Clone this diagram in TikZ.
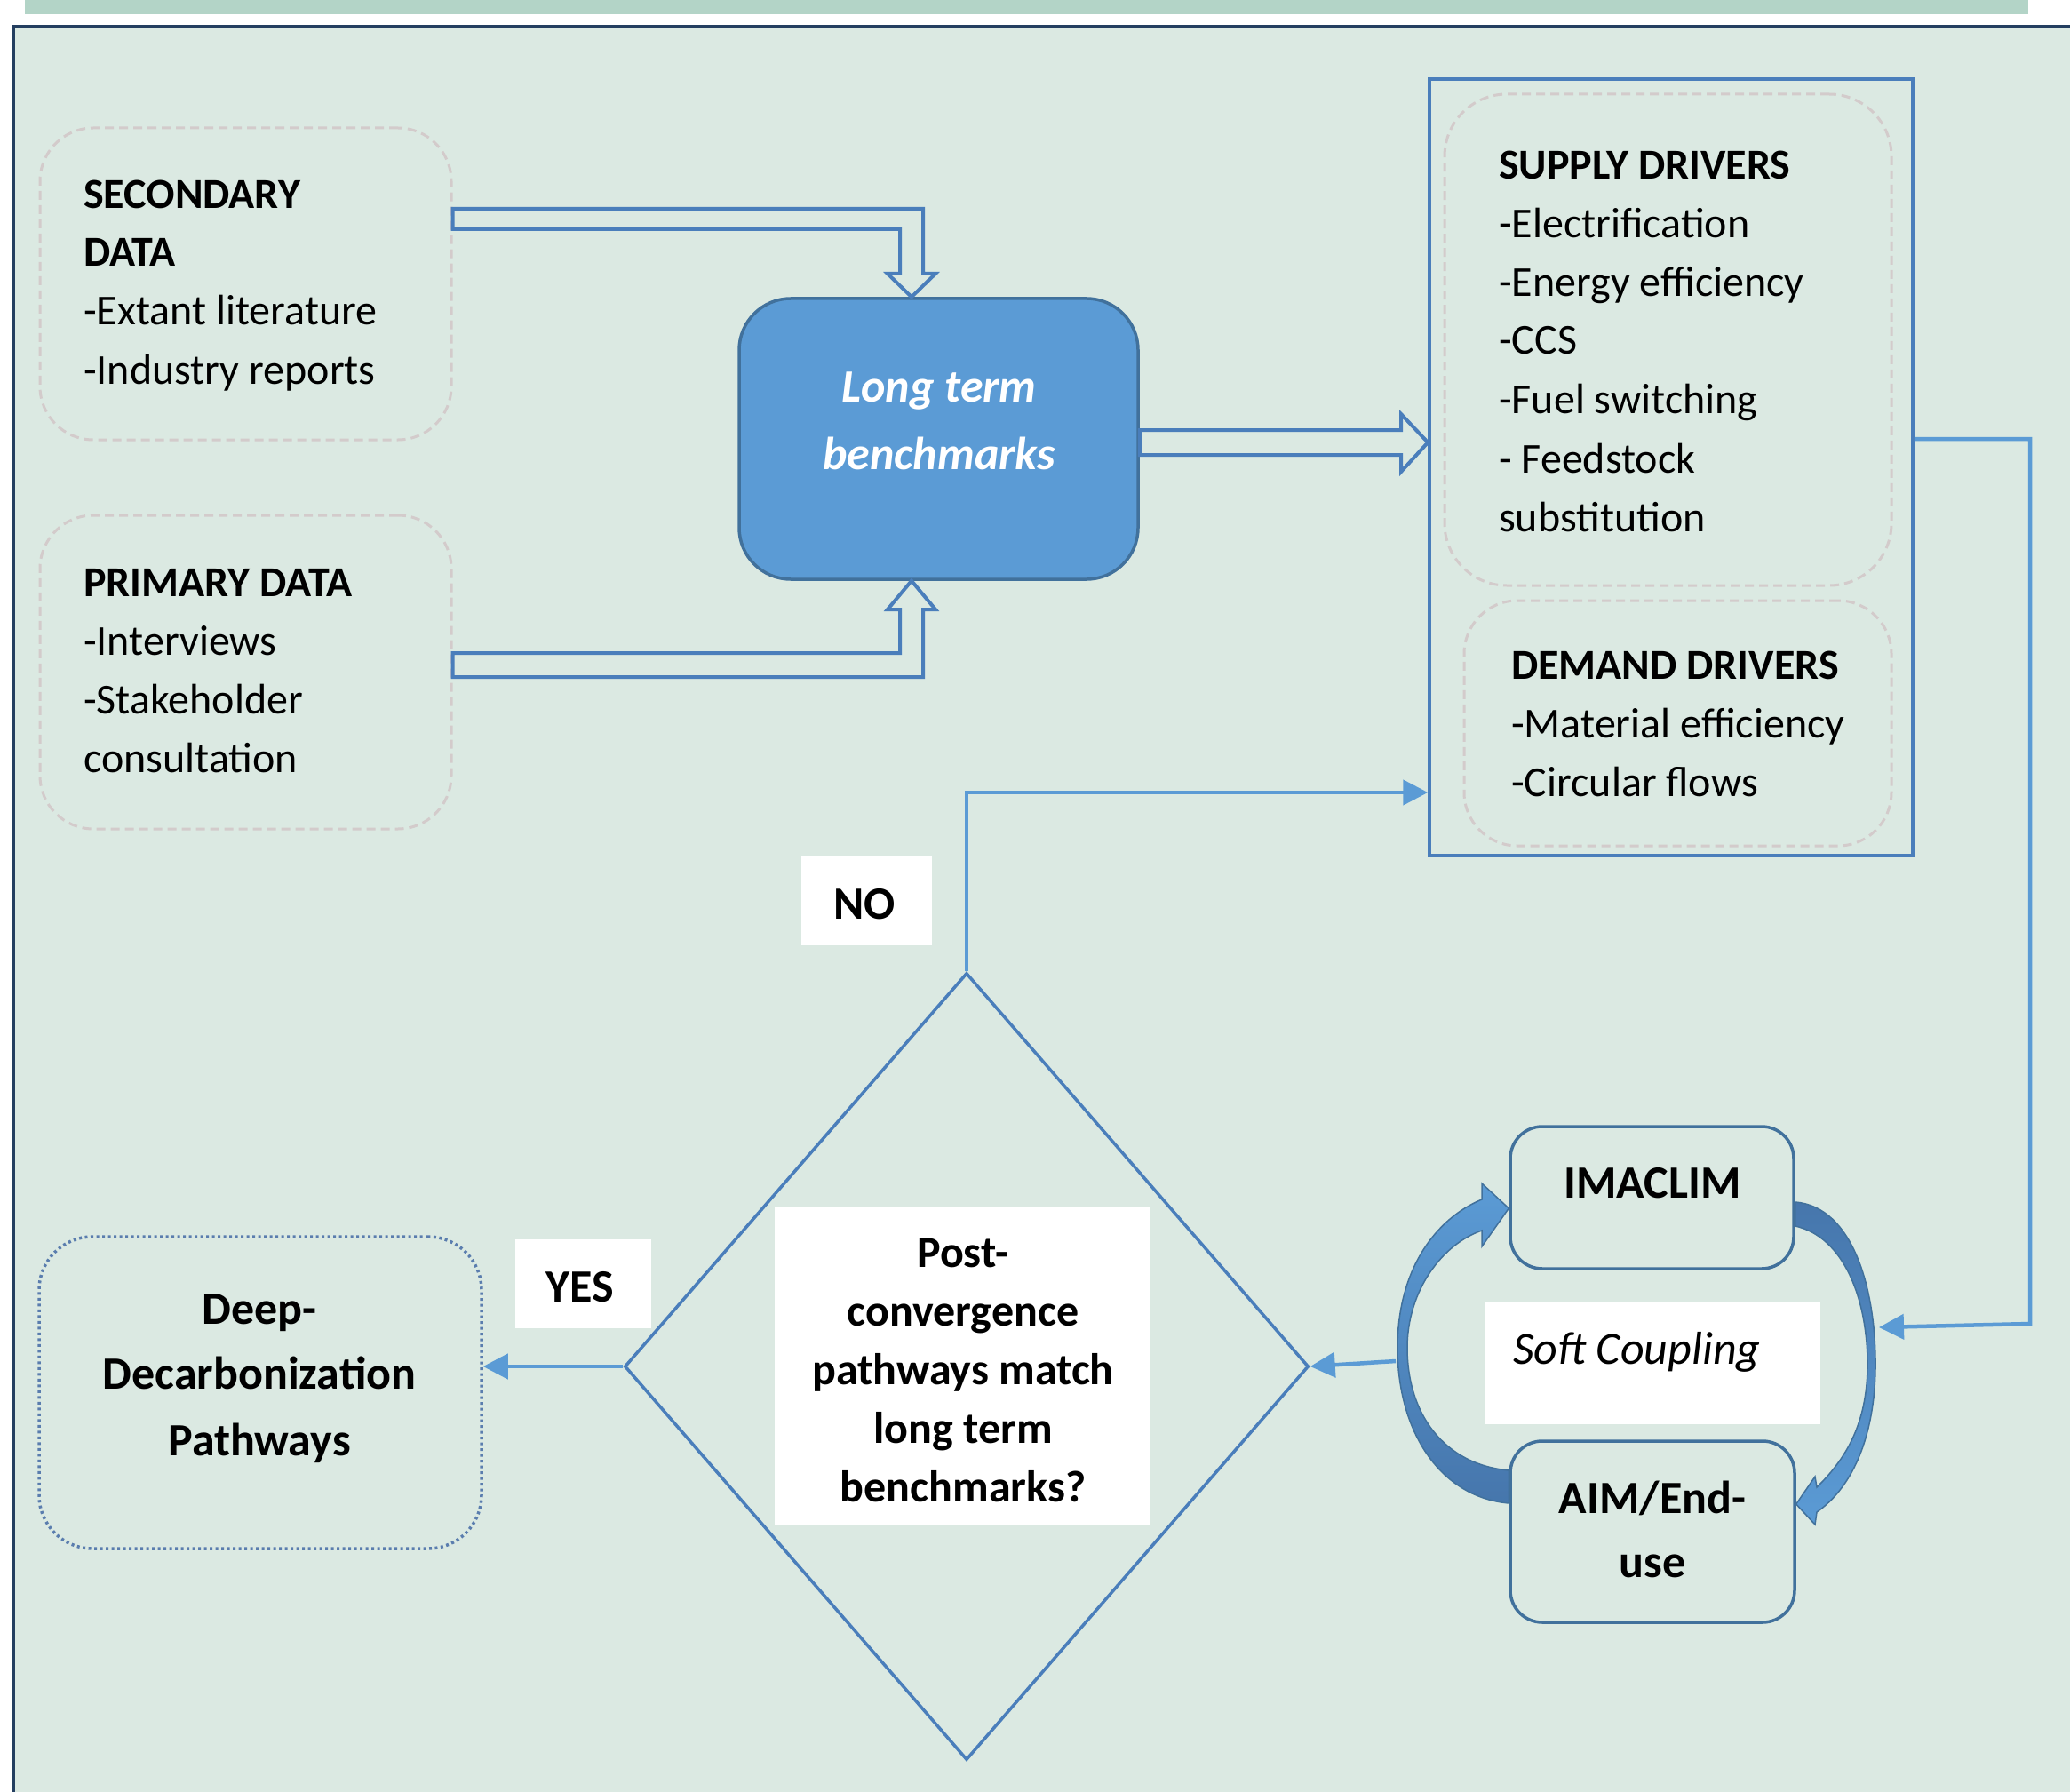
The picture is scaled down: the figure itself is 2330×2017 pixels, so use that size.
\documentclass[tikz,border=0pt]{standalone}
\usepackage{fontspec}
\setmainfont{Carlito}
\usetikzlibrary{arrows.meta,shapes.geometric,calc}
\definecolor{bg}{HTML}{DBE9E2}
\definecolor{band}{HTML}{B3D4C7}
\definecolor{navy}{HTML}{243F60}
\definecolor{bluefill}{HTML}{5B9BD5}
\definecolor{bluedark}{HTML}{41719C}
\definecolor{bluemid}{HTML}{4A7EBB}
\definecolor{connblue}{HTML}{5B9BD5}
\definecolor{dashgray}{HTML}{D3CBCB}
\definecolor{dotblue}{HTML}{5A7DAE}
\definecolor{arrlight}{HTML}{5B9BD5}
\definecolor{arrdark}{HTML}{4676AC}
\begin{document}
\begin{tikzpicture}[x=1pt,y=-1pt,
  dashbox/.style={draw=dashgray, line width=3pt, dash pattern=on 10pt off 6pt, rounded corners=60pt, inner sep=0pt},
  dotbox/.style={draw=dotblue, line width=3.5pt, dash pattern=on 3pt off 3.5pt, rounded corners=60pt, inner sep=0pt},
  modelbox/.style={draw=bluedark, line width=3.5pt, rounded corners=36pt, inner sep=0pt},
  labelbox/.style={fill=white, inner sep=0pt},
  hollow/.style={draw=bluemid, line width=4pt, line join=miter},
  conn/.style={draw=connblue, line width=4.5pt, -{Triangle[length=28pt,width=28pt]}},
  tx/.style={inner sep=0pt, anchor=base west, text=black},
  cx/.style={inner sep=0pt, anchor=base, text=black},
  fL/.style={font=\fontsize{48pt}{58pt}\selectfont},
  fLb/.style={font=\fontsize{48pt}{58pt}\selectfont\bfseries},
  fR/.style={font=\fontsize{48pt}{58pt}\selectfont},
  fRb/.style={font=\fontsize{48pt}{58pt}\selectfont\bfseries},
  fB/.style={font=\fontsize{52pt}{62pt}\selectfont\bfseries},
  fQ/.style={font=\fontsize{50pt}{60pt}\selectfont\bfseries},
  fI/.style={font=\fontsize{52pt}{62pt}\selectfont\itshape},
  fBI/.style={font=\fontsize{52pt}{62pt}\selectfont\bfseries\itshape}
]
\useasboundingbox (0,0) rectangle (2330,2017);
\clip (0,0) rectangle (2330,2017);
\fill[white] (0,0) rectangle (2330,2017);
\fill[band] (28,0) rectangle (2283,16);
\fill[bg] (15,30) rectangle (2345,2035);
\draw[navy, line width=3pt] (15,2035) -- (15,30) -- (2345,30);

% boxes
\node[dashbox, minimum width=463pt, minimum height=351pt] (sec) at (276.5,319.5) {};
\node[dashbox, minimum width=463pt, minimum height=353pt] (pri) at (276.5,756.5) {};
\node[draw=bluedark, fill=bluefill, line width=3.5pt, rounded corners=58pt, minimum width=449pt, minimum height=316pt, inner sep=0pt] (lt) at (1056.5,494) {};
\node[draw=bluemid, line width=3.5pt, minimum width=544pt, minimum height=874pt, inner sep=0pt] (cont) at (1881,526) {};
\node[dashbox, rounded corners=70pt, minimum width=503pt, minimum height=553pt] (sup) at (1877.5,382.5) {};
\node[dashbox, rounded corners=60pt, minimum width=481pt, minimum height=276pt] (dem) at (1888.5,814) {};
\node[dotbox, minimum width=498pt, minimum height=351pt] (deep) at (293,1567.5) {};
\node[modelbox, minimum width=319pt, minimum height=160pt] (ima) at (1859.5,1348) {};
\node[modelbox, minimum width=320pt, minimum height=204pt] (aim) at (1860,1724) {};
\node[diamond, draw=bluemid, line width=3.5pt, minimum width=770pt, minimum height=886pt, inner sep=0pt] (dia) at (1088,1538) {};
\node[labelbox, minimum width=147pt, minimum height=100pt] (nobox) at (975.5,1014) {};
\node[labelbox, minimum width=153pt, minimum height=100pt] (yesbox) at (656.5,1445) {};
\node[labelbox, minimum width=423pt, minimum height=357pt] (qbox) at (1083.5,1537.5) {};
\node[labelbox, minimum width=377pt, minimum height=138pt] (scbox) at (1860.5,1534) {};

% hollow block arrows
\draw[hollow] (sec.east |- 0,235) -- (1039,235) -- (1039,308) -- (1053,308) -- (lt.north -| 1026,0) -- (999,308) -- (1013,308) -- (1013,258) -- (sec.east |- 0,258) -- cycle;
\draw[hollow] (pri.east |- 0,762) -- (1039,762) -- (1039,686) -- (1053,686) -- (lt.south -| 1026,0) -- (999,686) -- (1013,686) -- (1013,735) -- (pri.east |- 0,735) -- cycle;
\draw[hollow] (lt.east |- 0,484) -- (1577,484) -- (1577,466) -- (cont.west |- 0,498) -- (1577,531) -- (1577,512) -- (lt.east |- 0,512) -- cycle;

% curved coupling arrows
\path[draw=bluedark, line width=1.5pt, top color=arrlight, bottom color=arrdark]
 (aim.west |- 0,1692) .. controls (1620,1685) and (1573,1610) .. (1573,1517)
 .. controls (1573,1430) and (1615,1372) .. (1668,1350)
 -- (1668,1332) -- (ima.west |- 0,1360) -- (1668,1403) -- (1668,1385)
 .. controls (1624,1400) and (1584,1452) .. (1584,1517)
 .. controls (1584,1590) and (1624,1648) .. (aim.west |- 0,1655) -- cycle;
\path[draw=bluedark, line width=1.5pt, top color=arrdark, bottom color=arrlight]
 (ima.east |- 0,1353) .. controls (2085,1358) and (2112,1450) .. (2111,1540)
 .. controls (2110,1612) and (2088,1672) .. (2045,1702)
 -- (2043,1716) -- (aim.east |- 0,1693) -- (2043,1662) -- (2045,1674)
 .. controls (2080,1640) and (2101,1600) .. (2102,1540)
 .. controls (2103,1462) and (2075,1392) .. (ima.east |- 0,1380) -- cycle;

% connectors
\coordinate (nobend) at (dia.north |- 0,892);
\draw[conn] (dia.north) -- (nobend) -- (nobend -| cont.west);
\draw[conn] (dia.west) -- (dia.west -| deep.east);
\coordinate (scout) at (1571,1532);
\draw[conn] (scout) -- (dia.east);
\coordinate (scin) at (2115,1494);
\draw[conn] (cont.east |- lt.east) -- (2285,494) -- (2285,1490) -- (scin);

% texts
\node[tx,fLb] (secT1) at (94,235) {SECONDARY};
\node[tx,fLb] (secT2) at (94,300) {DATA};
\node[tx,fL] (secT3) at (94,366) {-Extant literature};
\node[tx,fL] (secT4) at (94,432) {-Industry reports};

\node[tx,fLb] (priT1) at (94,671) {PRIMARY DATA};
\node[tx,fL] (priT2) at (94,737) {-Interviews};
\node[tx,fL] (priT3) at (94,803) {-Stakeholder};
\node[tx,fL] (priT4) at (94,869) {consultation};

\node[cx,fBI,text=white] (ltT1) at (1057,453) {Long term};
\node[cx,fBI,text=white] (ltT2) at (1057,528) {benchmarks};

\node[tx,fRb] (supT1) at (1687,202) {SUPPLY DRIVERS};
\node[tx,fR] (supT2) at (1687,268) {-Electrification};
\node[tx,fR] (supT3) at (1687,334) {-Energy efficiency};
\node[tx,fR] (supT4) at (1687,399) {-CCS};
\node[tx,fR] (supT5) at (1687,466) {-Fuel switching};
\node[tx,fR] (supT6) at (1687,532) {- Feedstock};
\node[tx,fR] (supT7) at (1687,598) {substitution};

\node[tx,fRb] (demT1) at (1701,764) {DEMAND DRIVERS};
\node[tx,fR] (demT2) at (1701,830) {-Material efficiency};
\node[tx,fR] (demT3) at (1701,896) {-Circular flows};

\node[cx,fB] (noT) at (973,1034) {NO};
\node[cx,fB] (yesT) at (653,1465) {YES};

\node[cx,fQ] (qT1) at (1084,1426) {Post-};
\node[cx,fQ] (qT2) at (1084,1492) {convergence};
\node[cx,fQ] (qT3) at (1084,1558) {pathways match};
\node[cx,fQ] (qT4) at (1084,1624) {long term};
\node[cx,fQ] (qT5) at (1084,1690) {benchmarks?};

\node[cx,fB] (deepT1) at (292,1490) {Deep-};
\node[cx,fB] (deepT2) at (292,1563) {Decarbonization};
\node[cx,fB] (deepT3) at (292,1638) {Pathways};

\node[cx,fB] (imaT) at (1860,1348) {IMACLIM};
\node[cx,fB] (aimT1) at (1860,1703) {AIM/End-};
\node[cx,fB] (aimT2) at (1860,1775) {use};
\node[tx,fI] (scT) at (1703,1535) {Soft Coupling};
\end{tikzpicture}
\end{document}
